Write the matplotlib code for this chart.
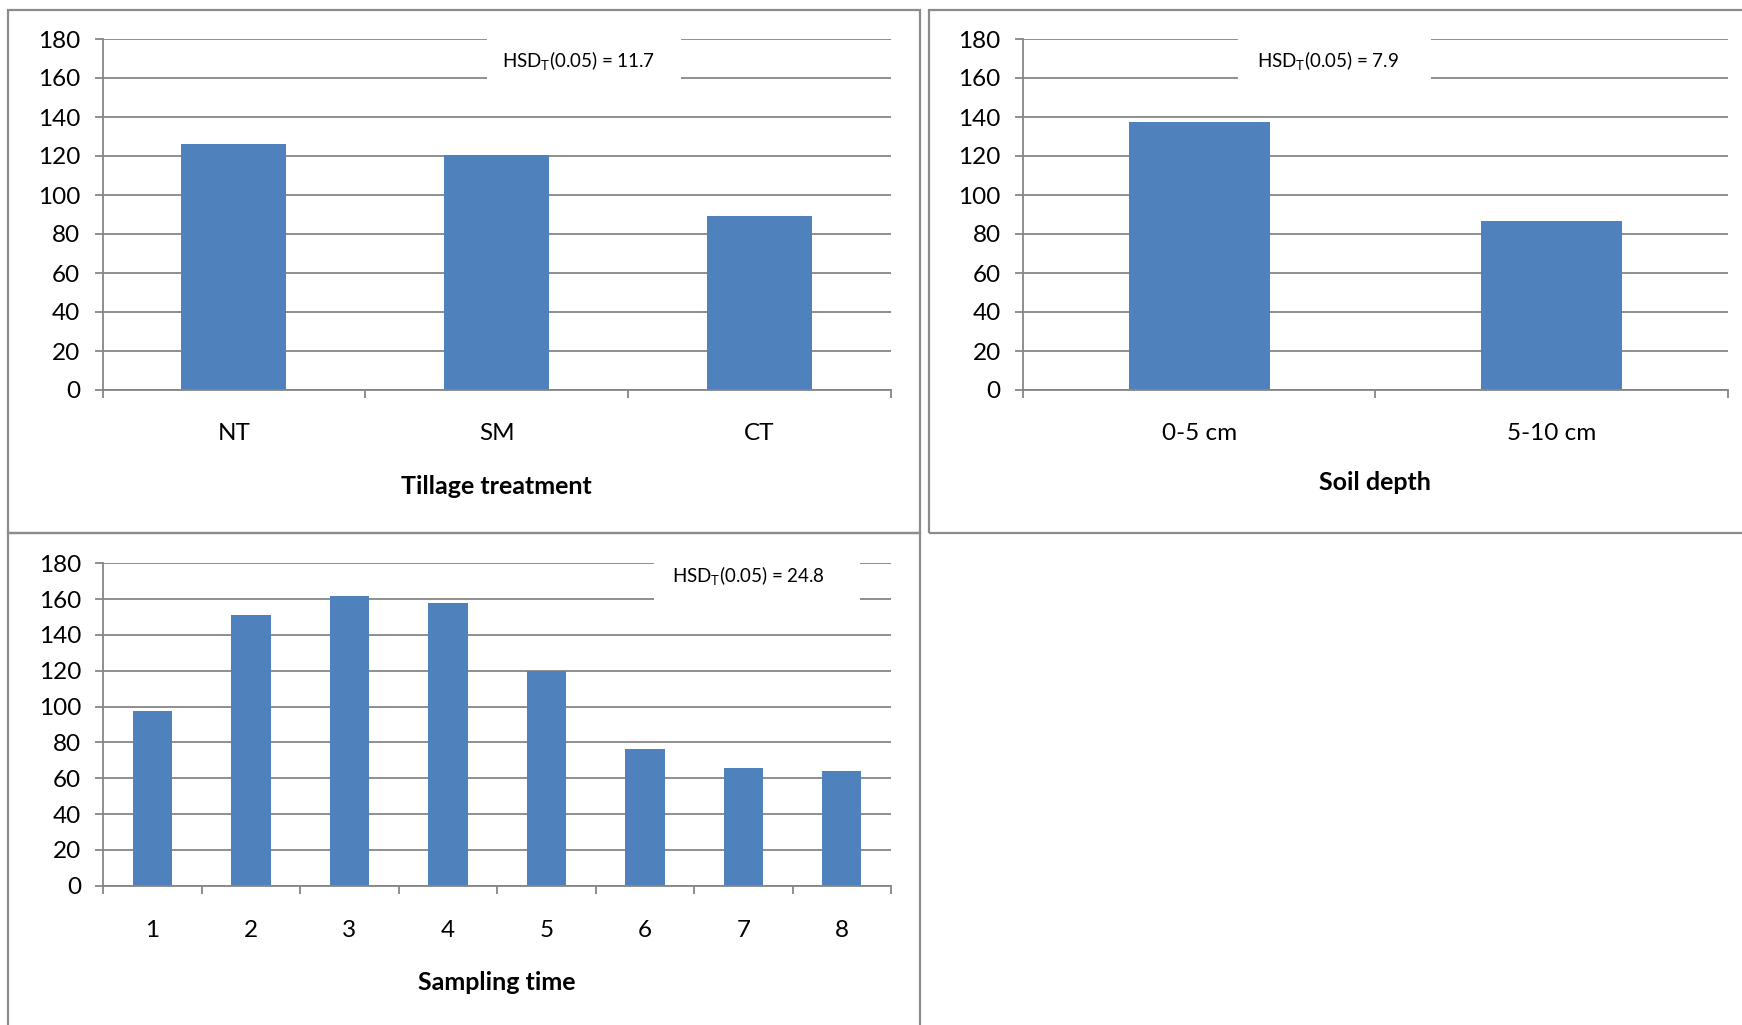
import matplotlib
matplotlib.use("Agg")
import matplotlib.pyplot as plt
from matplotlib.patches import Rectangle

plt.rcParams['font.family'] = ['Lato', 'DejaVu Sans']
plt.rcParams['mathtext.fontset'] = 'custom'
plt.rcParams['mathtext.rm'] = 'Lato'

# ---- data ----
tillage_labels = ["NT", "SM", "CT"]
tillage_values = [126.2, 120.4, 89.3]
tillage_hsd = "11.7"

depth_labels = ["0-5 cm", "5-10 cm"]
depth_values = [137.5, 86.6]
depth_hsd = "7.9"

time_labels = ["1", "2", "3", "4", "5", "6", "7", "8"]
time_values = [97.5, 151.0, 161.9, 157.8, 119.7, 76.3, 65.5, 64.0]
time_hsd = "24.8"

y_ticks = [0, 20, 40, 60, 80, 100, 120, 140, 160, 180]

# ---- style ----
W, H = 1742, 1025
BAR = "#4F81BD"
GRID = "#868686"
BORDER = "#8C8C8C"
FS = 17.5
FS_TITLE = 18
FS_NOTE = 13.5

fig = plt.figure(figsize=(W / 100, H / 100), dpi=100)
fig.patch.set_facecolor("white")


def px_rect(x0, y0, x1, y1):
    """Figure-fraction rectangle from pixel box (top-left origin)."""
    return [x0 / W, 1 - y1 / H, (x1 - x0) / W, (y1 - y0) / H]


# panel frames
for (x0, y0, x1, y1) in [(8, 10, 920, 532.5), (928.5, 10, 1760, 532.5),
                         (8, 532.5, 920, 1040)]:
    fig.add_artist(Rectangle((x0 / W, 1 - y1 / H), (x1 - x0) / W, (y1 - y0) / H,
                             transform=fig.transFigure, fill=False,
                             edgecolor=BORDER, linewidth=1.6))


def bar_panel(rect, labels, values, xlabel, hsd, box_x, text_x, text_y,
              label_pad, title_pad, box_y=(157.5, 183)):
    ax = fig.add_axes(px_rect(*rect))
    n = len(labels)
    xs = list(range(n))
    ax.bar(xs, values, width=0.4, color=BAR, zorder=3)
    ax.set_xlim(-0.5, n - 0.5)
    ax.set_ylim(0, 180)
    ax.set_yticks(y_ticks)
    ax.yaxis.grid(True, color=GRID, linewidth=1.3, zorder=0)
    ax.set_axisbelow(True)
    for s in ["top", "right"]:
        ax.spines[s].set_visible(False)
    for s in ["left", "bottom"]:
        ax.spines[s].set_color(GRID)
        ax.spines[s].set_linewidth(1.3)
        ax.spines[s].set_zorder(4)
    ax.tick_params(axis="y", length=6, width=1.3, color=GRID,
                   labelsize=FS, pad=10)
    ax.set_xticks(xs)
    ax.set_xticklabels(labels)
    ax.tick_params(axis="x", which="major", length=0, labelsize=FS,
                   pad=label_pad)
    ax.set_xticks([i - 0.5 for i in range(n + 1)], minor=True)
    ax.tick_params(axis="x", which="minor", length=6, width=1.3, color=GRID,
                   direction="out")
    ax.set_xlabel(xlabel, fontsize=FS_TITLE, fontweight="bold",
                  labelpad=title_pad)
    # white label box for the HSD value
    ax.add_patch(Rectangle((box_x[0], box_y[0]), box_x[1] - box_x[0],
                           box_y[1] - box_y[0], facecolor="white",
                           edgecolor="none", zorder=2, clip_on=False))
    ax.text(text_x, text_y, r"HSD$_\mathregular{T}$(0.05) = " + hsd,
            fontsize=FS_NOTE, ha="center", va="center", zorder=5)
    return ax


bar_panel((102.5, 39, 891, 390), tillage_labels, tillage_values,
          "Tillage treatment", tillage_hsd, (0.962, 1.70), 1.312, 168.7,
          label_pad=23.5, title_pad=22.5)
bar_panel((1023, 39, 1727.5, 390), depth_labels, depth_values,
          "Soil depth", depth_hsd, (0.111, 0.659), 0.366, 168.7,
          label_pad=23.5, title_pad=19.5)
bar_panel((103.3, 563.3, 891, 885.7), time_labels, time_values,
          "Sampling time", time_hsd, (5.09, 7.19), 6.055, 172.9,
          label_pad=24.5, title_pad=22)

fig.savefig("out.png", dpi=100, facecolor="white")
